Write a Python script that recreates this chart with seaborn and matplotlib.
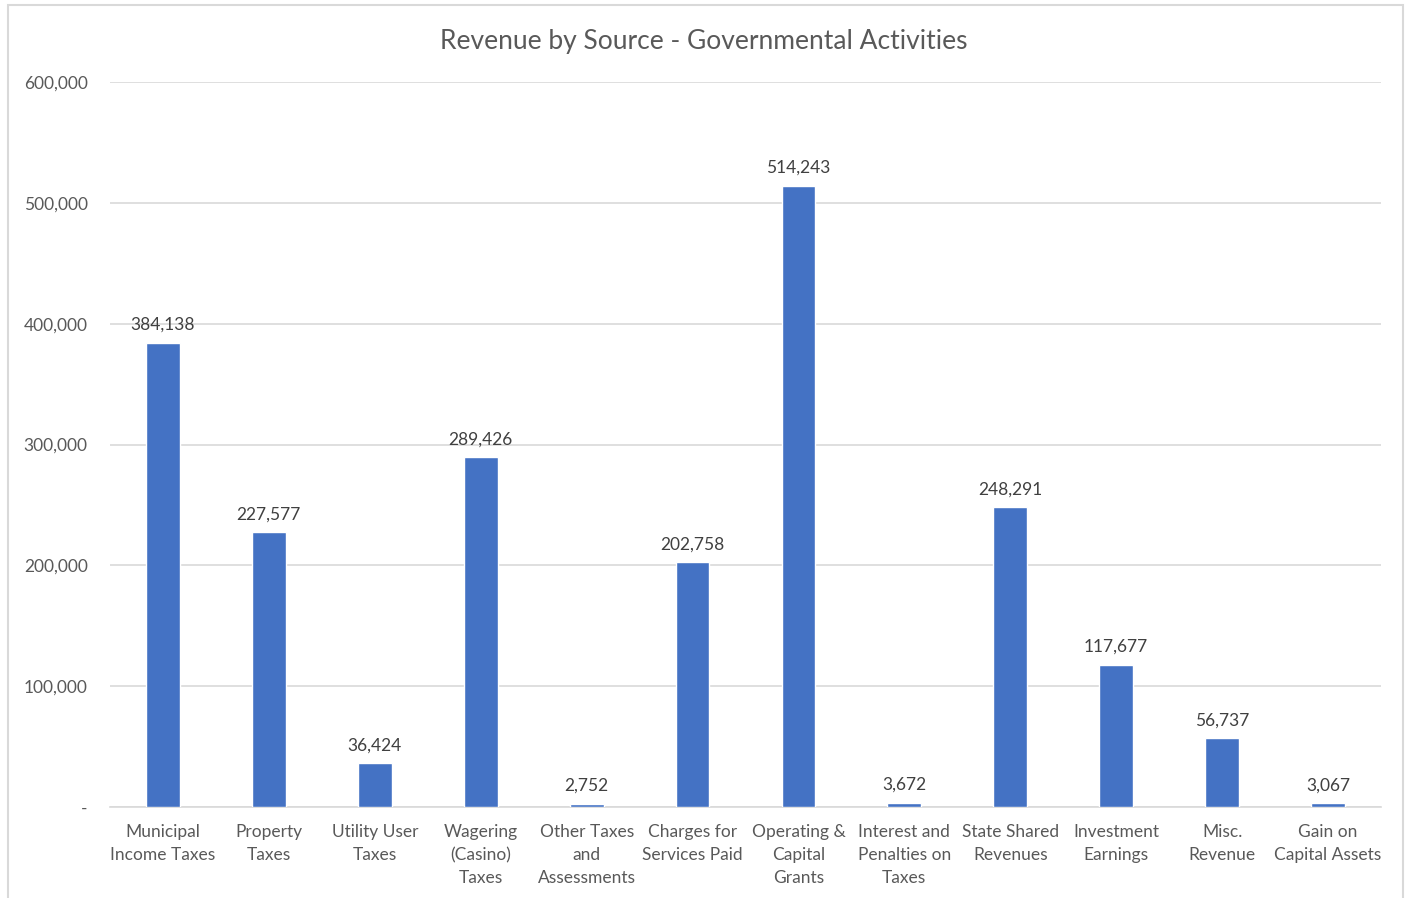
import matplotlib
matplotlib.use("Agg")
import matplotlib.pyplot as plt
import seaborn as sns
import pandas as pd
from matplotlib.patches import Rectangle
from matplotlib.ticker import FuncFormatter

categories = [
    "Municipal\nIncome Taxes", "Property\nTaxes", "Utility User\nTaxes",
    "Wagering\n(Casino)\nTaxes", "Other Taxes\nand\nAssessments",
    "Charges for\nServices Paid", "Operating &\nCapital\nGrants",
    "Interest and\nPenalties on\nTaxes", "State Shared\nRevenues",
    "Investment\nEarnings", "Misc.\nRevenue", "Gain on\nCapital Assets",
]
values = [384138, 227577, 36424, 289426, 2752, 202758, 514243, 3672,
          248291, 117677, 56737, 3067]
yticks = [0, 100000, 200000, 300000, 400000, 500000, 600000]
title = "Revenue by Source - Governmental Activities"

sns.set_theme(style="white")
plt.rcParams['font.family'] = ['Lato', 'DejaVu Sans']

df = pd.DataFrame({"cat": categories, "val": values})
fig = plt.figure(figsize=(14.08, 8.98), dpi=100)
ax = fig.add_axes([110/1408, 1-807/898, 1271/1408, 725/898])

sns.barplot(data=df, x="cat", y="val", color="#4472C4", width=0.32,
            saturation=1, ax=ax, zorder=3)

ax.set_ylim(0, 600000)
ax.set_xlim(-0.5, len(categories)-0.5)
ax.set_yticks(yticks)
ax.yaxis.set_major_formatter(FuncFormatter(lambda v, p: "-" if v == 0 else f"{int(v):,}"))
ax.grid(axis="y", color="#D9D9D9", linewidth=1.2, zorder=0)
ax.set_xlabel("")
ax.set_ylabel("")
for s in ["top", "right", "left"]:
    ax.spines[s].set_visible(False)
ax.spines["bottom"].set_color("#D9D9D9")
ax.spines["bottom"].set_linewidth(1.2)
ax.tick_params(axis="both", length=0, colors="#595959", labelsize=12.5)
ax.tick_params(axis="y", pad=16)
ax.tick_params(axis="x", pad=12)
for lbl in ax.get_xticklabels():
    lbl.set_linespacing(1.55)

for i, v in enumerate(values):
    ax.annotate(f"{v:,}", (i, v), xytext=(0, 7), textcoords="offset points",
                ha="center", va="bottom", fontsize=12.5, color="#404040")

fig.text(0.5, 1-41/898, title, ha="center", va="center", fontsize=19, color="#595959")

fig.patches.append(Rectangle((8/1408, -0.1), (1403-8)/1408, 1.1-5/898,
                             transform=fig.transFigure, fill=False,
                             edgecolor="#D9D9D9", linewidth=1.5))

fig.savefig("out.png", dpi=100, facecolor="white")
